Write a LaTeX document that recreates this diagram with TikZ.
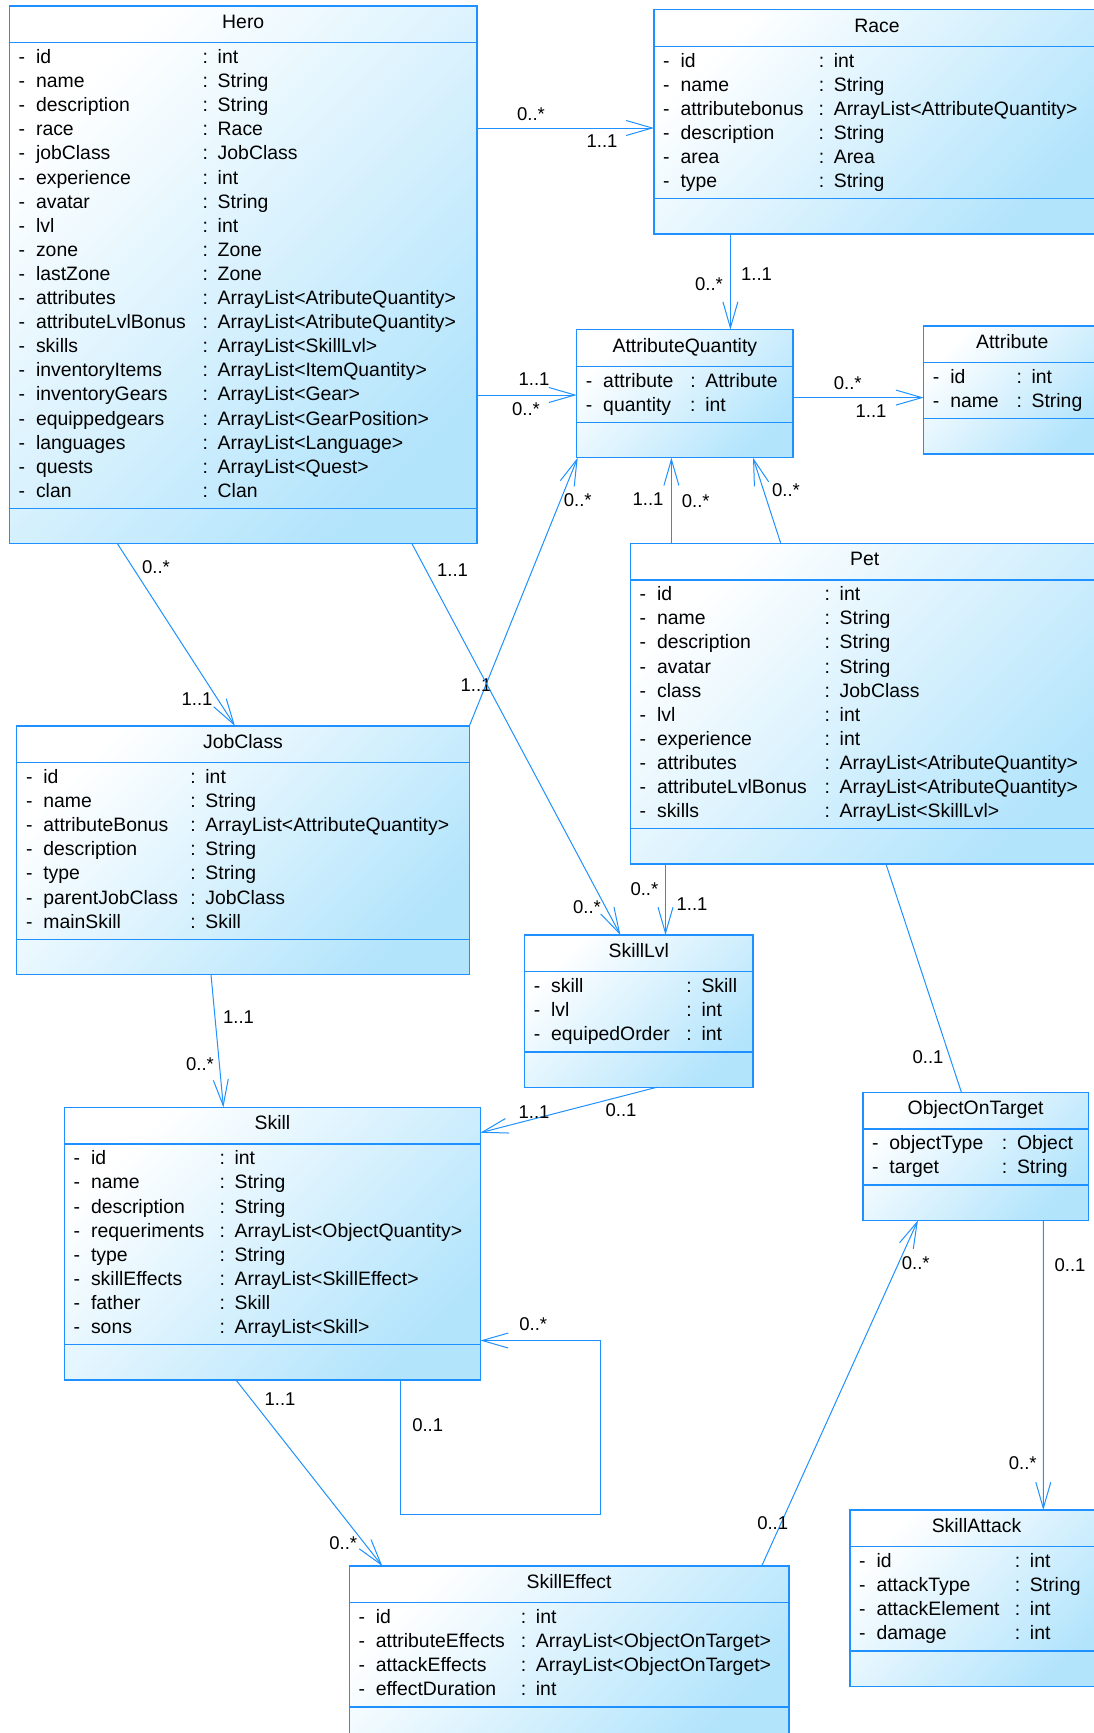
\documentclass[tikz,border=0pt]{standalone}
\usepackage{fontspec}
\setmainfont{Liberation Sans}
\usetikzlibrary{shapes.multipart,arrows.meta,calc}

\definecolor{umlline}{RGB}{30,144,255}
\definecolor{umlfill}{RGB}{178,228,252}

\newcommand{\classname}[1]{\makebox[\linewidth]{\rule[-10.2pt]{0pt}{28.8pt}#1}}
\newcommand{\opsgap}{\rule{0pt}{27.4pt}}
\newenvironment{fields}[1]{\begin{tabular}{@{\hspace{9.2pt}}l@{\hspace{10.9pt}}p{#1}@{}l@{}}}{\end{tabular}}

\begin{document}
\begin{tikzpicture}[x=1pt, y=-1pt,
  classbox/.style={rectangle split, rectangle split parts=3, draw=umlline, line width=1.3pt,
    top color=white, bottom color=umlfill, shading angle=45,
    inner xsep=0pt, inner ysep=3.3pt, outer sep=0pt, anchor=north west,
    font=\fontsize{19.4}{24.1}\selectfont},
  assoc/.style={umlline, line width=1pt, -{Straight Barb[length=26pt, width=15pt]}},
  link/.style={umlline, line width=1pt},
  mult/.style={text=black, font=\fontsize{18.5}{22}\selectfont, inner sep=0pt}]
  \useasboundingbox (0,0) rectangle (1094,1733);
  \clip (0,0) rectangle (1094,1733);

  \node(hero)[classbox, text width=467.5pt] at (9.5,6) {\classname{Hero}
    \nodepart{second}\begin{fields}{166.6pt}
      - & id & : int\\
      - & name & : String\\
      - & description & : String\\
      - & race & : Race\\
      - & jobClass & : JobClass\\
      - & experience & : int\\
      - & avatar & : String\\
      - & lvl & : int\\
      - & zone & : Zone\\
      - & lastZone & : Zone\\
      - & attributes & : ArrayList<AtributeQuantity>\\
      - & attributeLvlBonus & : ArrayList<AtributeQuantity>\\
      - & skills & : ArrayList<SkillLvl>\\
      - & inventoryItems & : ArrayList<ItemQuantity>\\
      - & inventoryGears & : ArrayList<Gear>\\
      - & equippedgears & : ArrayList<GearPosition>\\
      - & languages & : ArrayList<Language>\\
      - & quests & : ArrayList<Quest>\\
      - & clan & : Clan
    \end{fields}
    \nodepart{third}\opsgap};
  \node(race)[classbox, text width=446pt] at (654,9.6) {\classname{Race}
    \nodepart{second}\begin{fields}{138.2pt}
      - & id & : int\\
      - & name & : String\\
      - & attributebonus & : ArrayList<AttributeQuantity>\\
      - & description & : String\\
      - & area & : Area\\
      - & type & : String
    \end{fields}
    \nodepart{third}\opsgap};
  \node(attrqty)[classbox, text width=216.3pt] at (576.7,329.6) {\classname{AttributeQuantity}
    \nodepart{second}\begin{fields}{87pt}
      - & attribute & : Attribute\\
      - & quantity & : int
    \end{fields}
    \nodepart{third}\opsgap};
  \node(attribute)[classbox, text width=177pt] at (923.7,326) {\classname{Attribute}
    \nodepart{second}\begin{fields}{66.3pt}
      - & id & : int\\
      - & name & : String
    \end{fields}
    \nodepart{third}\opsgap};
  \node(pet)[classbox, text width=468.5pt] at (630.5,543.2) {\classname{Pet}
    \nodepart{second}\begin{fields}{167.6pt}
      - & id & : int\\
      - & name & : String\\
      - & description & : String\\
      - & avatar & : String\\
      - & class & : JobClass\\
      - & lvl & : int\\
      - & experience & : int\\
      - & attributes & : ArrayList<AtributeQuantity>\\
      - & attributeLvlBonus & : ArrayList<AtributeQuantity>\\
      - & skills & : ArrayList<SkillLvl>
    \end{fields}
    \nodepart{third}\opsgap};
  \node(jobclass)[classbox, text width=452.5pt] at (16.8,726) {\classname{JobClass}
    \nodepart{second}\begin{fields}{147pt}
      - & id & : int\\
      - & name & : String\\
      - & attributeBonus & : ArrayList<AttributeQuantity>\\
      - & description & : String\\
      - & type & : String\\
      - & parentJobClass & : JobClass\\
      - & mainSkill & : Skill
    \end{fields}
    \nodepart{third}\opsgap};
  \node(skilllvl)[classbox, text width=228.4pt] at (524.6,935) {\classname{SkillLvl}
    \nodepart{second}\begin{fields}{135.3pt}
      - & skill & : Skill\\
      - & lvl & : int\\
      - & equipedOrder & : int
    \end{fields}
    \nodepart{third}\opsgap};
  \node(skill)[classbox, text width=415.9pt] at (64.5,1107.3) {\classname{Skill}
    \nodepart{second}\begin{fields}{128.5pt}
      - & id & : int\\
      - & name & : String\\
      - & description & : String\\
      - & requeriments & : ArrayList<ObjectQuantity>\\
      - & type & : String\\
      - & skillEffects & : ArrayList<SkillEffect>\\
      - & father & : Skill\\
      - & sons & : ArrayList<Skill>
    \end{fields}
    \nodepart{third}\opsgap};
  \node(objtarget)[classbox, text width=225.4pt] at (862.9,1092.3) {\classname{ObjectOnTarget}
    \nodepart{second}\begin{fields}{112.5pt}
      - & objectType & : Object\\
      - & target & : String
    \end{fields}
    \nodepart{third}\opsgap};
  \node(skilleffect)[classbox, text width=439.7pt] at (349.3,1566) {\classname{SkillEffect}
    \nodepart{second}\begin{fields}{145pt}
      - & id & : int\\
      - & attributeEffects & : ArrayList<ObjectOnTarget>\\
      - & attackEffects & : ArrayList<ObjectOnTarget>\\
      - & effectDuration & : int
    \end{fields}
    \nodepart{third}\opsgap};
  \node(skillattack)[classbox, text width=253pt] at (850,1510) {\classname{SkillAttack}
    \nodepart{second}\begin{fields}{138.3pt}
      - & id & : int\\
      - & attackType & : String\\
      - & attackElement & : int\\
      - & damage & : int
    \end{fields}
    \nodepart{third}\opsgap};

  \draw[assoc] ($(hero.north east)+(0,122)$) -- ($(race.north west)+(0,118.4)$)
    node[mult, pos=0, shift={(54,-14)}] {0..*} node[mult, pos=1, shift={(-52,13)}] {1..1};
  \draw[assoc] ($(hero.north east)+(0,389)$) -- ($(attrqty.north west)+(0,65.4)$)
    node[mult, pos=0, shift={(57,-15.4)}] {1..1} node[mult, pos=0, shift={(49,14)}] {0..*};
  \draw[assoc] ($(race.south west)+(76.4,0)$) -- ($(attrqty.north west)+(153.7,0)$)
    node[mult, pos=1, shift={(-21.4,-45.6)}] {0..*} node[mult, pos=1, shift={(26.1,-55.6)}] {1..1};
  \draw[assoc] ($(attrqty.north east)+(0,68)$) -- ($(attribute.north west)+(0,71.6)$)
    node[mult, pos=0, shift={(54.7,-14.6)}] {0..*} node[mult, pos=1, shift={(-52.7,13.1)}] {1..1};
  \draw[assoc] (jobclass.north east) -- ($(attrqty.south west)+(1,0)$)
    node[mult, pos=0, shift={(6.7,-41)}] {1..1} node[mult, pos=1, shift={(0,42)}] {0..*};
  \draw[assoc] ($(hero.south west)+(108,0)$) -- ($(jobclass.north west)+(218.2,0)$)
    node[mult, pos=0, shift={(38.5,23)}] {0..*} node[mult, pos=1, shift={(-38,-26.4)}] {1..1};
  \draw[assoc] ($(hero.south west)+(402.5,0)$) -- ($(skilllvl.north west)+(95.8,0)$)
    node[mult, pos=0, shift={(40.5,26.4)}] {1..1} node[mult, pos=1, shift={(-33.4,-28.2)}] {0..*};
  \draw[assoc] ($(pet.north west)+(40.9,0)$) -- ($(attrqty.south west)+(94.7,0)$)
    node[mult, pos=1, shift={(-23.4,41.9)}] {1..1} node[mult, pos=1, shift={(24.3,43.7)}] {0..*};
  \draw[assoc] ($(pet.north west)+(150.2,0)$) -- ($(attrqty.south west)+(176.3,0)$)
    node[mult, pos=1, shift={(33,32.2)}] {0..*};
  \draw[assoc] ($(pet.south west)+(35,0)$) -- ($(skilllvl.north west)+(140.9,0)$)
    node[mult, pos=1, shift={(-21.1,-46)}] {0..*} node[mult, pos=1, shift={(26.5,-31)}] {1..1};
  \draw[link] ($(pet.south west)+(255.5,0)$) -- ($(objtarget.north west)+(98.5,0)$)
    node[mult, pos=1, shift={(-33.4,-35.6)}] {0..1};
  \draw[assoc] ($(jobclass.south west)+(194.2,0)$) -- ($(skill.north west)+(158.9,0)$)
    node[mult, pos=0, shift={(27.5,42.3)}] {1..1} node[mult, pos=1, shift={(-23.4,-42.7)}] {0..*};
  \draw[assoc] ($(skilllvl.south west)+(132.4,0)$) -- ($(skill.north east)+(0,25.4)$)
    node[mult, pos=0, shift={(-36,23.4)}] {0..1} node[mult, pos=1, shift={(53.6,-21)}] {1..1};
  \draw[assoc] ($(skill.south west)+(336.2,0)$) -- node[mult, pos=0, shift={(27,45.6)}] {0..1} ++(0,134)
    -- ++(200,0) |- ($(skill.north east)+(0,233.2)$) node[mult, pos=1, shift={(52.9,-16.5)}] {0..*};
  \draw[assoc] ($(skill.south west)+(171.5,0)$) -- ($(skilleffect.north west)+(33,0)$)
    node[mult, pos=0, shift={(44,18.9)}] {1..1} node[mult, pos=1, shift={(-39,-22.7)}] {0..*};
  \draw[assoc] ($(skilleffect.north west)+(412.4,0)$) -- ($(objtarget.south west)+(55,0)$)
    node[mult, pos=0, shift={(11,-43.3)}] {0..1} node[mult, pos=1, shift={(-2.1,43)}] {0..*};
  \draw[assoc] ($(objtarget.south west)+(180.4,0)$) -- ($(skillattack.north west)+(193.3,0)$)
    node[mult, pos=0, shift={(26.7,44.7)}] {0..1} node[mult, pos=1, shift={(-20.6,-46.6)}] {0..*};
\end{tikzpicture}
\end{document}
